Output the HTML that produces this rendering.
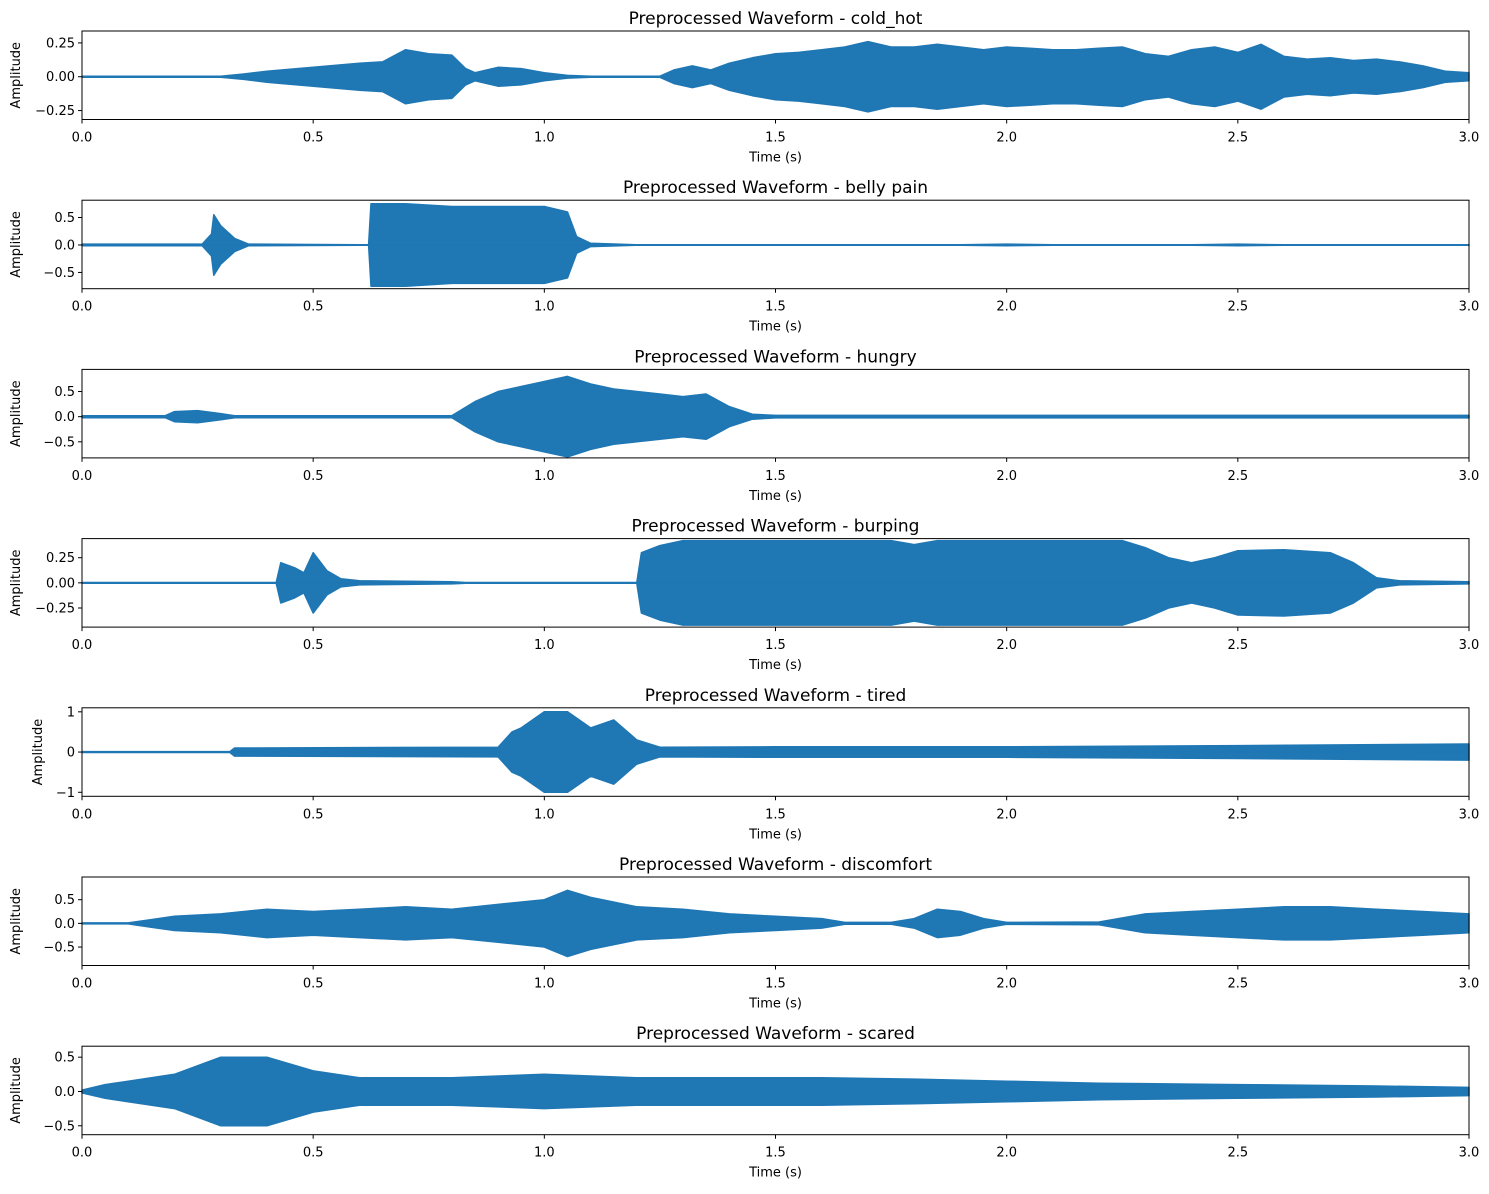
<!DOCTYPE html>
<html><head><meta charset="utf-8"><style>
body{margin:0;background:#fff;}
svg text{font-family:"DejaVu Sans","Liberation Sans",sans-serif;fill:#000;}
</style></head><body>
<svg id="fig" width="1489" height="1189" viewBox="0 0 1489 1189"></svg>
<script>
const titles=["cold_hot","belly pain","hungry","burping","tired","discomfort","scared"];
const ylims=[[-0.316,0.338],[-0.796,0.815],[-0.82,0.94],[-0.44,0.44],[-1.1,1.1],[-0.89,0.98],[-0.63,0.66]];
const yticks=[[-0.25,0,0.25],[-0.5,0,0.5],[-0.5,0,0.5],[-0.25,0,0.25],[-1,0,1],[-0.5,0,0.5],[-0.5,0,0.5]];
const ytickLabels=[["−0.25","0.00","0.25"],["−0.5","0.0","0.5"],["−0.5","0.0","0.5"],["−0.25","0.00","0.25"],["−1","0","1"],["−0.5","0.0","0.5"],["−0.5","0.0","0.5"]];
const xticks=[0,0.5,1,1.5,2,2.5,3];
const xtickLabels=["0.0","0.5","1.0","1.5","2.0","2.5","3.0"];
const t0=[0,0.3,0.35,0.4,0.45,0.5,0.55,0.6,0.65,0.7,0.75,0.8,0.83,0.85,0.9,0.95,1.0,1.05,1.1,1.25,1.28,1.32,1.36,1.4,1.45,1.5,1.55,1.6,1.65,1.7,1.75,1.8,1.85,1.9,1.95,2.0,2.05,2.1,2.15,2.2,2.25,2.3,2.35,2.4,2.45,2.5,2.55,2.6,2.65,2.7,2.75,2.8,2.85,2.9,2.95,3.0];
const a0=[0.004,0.004,0.02,0.04,0.055,0.07,0.085,0.1,0.11,0.2,0.17,0.16,0.06,0.03,0.07,0.06,0.03,0.01,0.004,0.004,0.05,0.08,0.05,0.1,0.14,0.17,0.18,0.2,0.22,0.26,0.22,0.22,0.24,0.22,0.2,0.22,0.21,0.2,0.2,0.21,0.22,0.17,0.15,0.2,0.22,0.18,0.24,0.15,0.13,0.14,0.12,0.13,0.11,0.08,0.04,0.03];
const t1=[0,0.26,0.28,0.285,0.3,0.33,0.36,0.6,0.62,0.625,0.7,0.8,0.9,1.0,1.05,1.07,1.1,1.2,1.9,2.0,2.1,2.4,2.5,2.6,3.0];
const a1=[0.015,0.015,0.2,0.55,0.35,0.12,0.015,0.005,0.005,0.75,0.75,0.7,0.7,0.7,0.6,0.15,0.03,0.004,0.004,0.015,0.004,0.004,0.015,0.004,0.004];
const t2=[0,0.18,0.2,0.25,0.3,0.33,0.8,0.85,0.9,0.95,1.0,1.05,1.1,1.15,1.2,1.25,1.3,1.35,1.4,1.45,1.5,3.0];
const a2=[0.02,0.02,0.1,0.12,0.06,0.02,0.02,0.3,0.5,0.6,0.7,0.8,0.65,0.55,0.5,0.45,0.4,0.45,0.2,0.05,0.025,0.025];
const t3=[0,0.42,0.43,0.46,0.48,0.5,0.53,0.56,0.6,0.7,0.8,0.83,1.2,1.21,1.25,1.3,1.75,1.8,1.85,2.25,2.3,2.35,2.4,2.45,2.5,2.6,2.7,2.75,2.8,2.85,3.0];
const a3=[0.003,0.003,0.2,0.15,0.1,0.3,0.12,0.04,0.02,0.015,0.01,0.003,0.003,0.3,0.37,0.42,0.42,0.38,0.42,0.42,0.35,0.25,0.2,0.25,0.32,0.33,0.3,0.2,0.05,0.02,0.01];
const t4=[0,0.32,0.33,0.9,0.93,0.95,1.0,1.05,1.1,1.15,1.2,1.25,1.5,2.0,2.5,3.0];
const a4=[0.01,0.01,0.1,0.12,0.5,0.6,1.0,1.0,0.6,0.8,0.3,0.12,0.13,0.13,0.16,0.2];
const t5=[0,0.1,0.15,0.2,0.3,0.4,0.5,0.6,0.7,0.8,0.9,1.0,1.05,1.1,1.2,1.3,1.4,1.5,1.6,1.65,1.75,1.8,1.85,1.9,1.95,2.0,2.2,2.3,2.4,2.5,2.6,2.7,2.8,2.9,3.0];
const a5=[0.01,0.01,0.08,0.15,0.2,0.3,0.25,0.3,0.35,0.3,0.4,0.5,0.7,0.55,0.35,0.3,0.2,0.15,0.1,0.02,0.02,0.1,0.3,0.25,0.1,0.02,0.03,0.2,0.25,0.3,0.35,0.35,0.3,0.25,0.2];
const t6=[0,0.05,0.1,0.2,0.3,0.4,0.5,0.6,0.8,1.0,1.2,1.4,1.6,1.8,2.0,2.2,2.5,2.8,3.0];
const a6=[0.02,0.1,0.15,0.25,0.5,0.5,0.3,0.2,0.2,0.25,0.2,0.2,0.2,0.18,0.15,0.12,0.1,0.08,0.06];
const times=[t0,t1,t2,t3,t4,t5,t6];
const amps=[a0,a1,a2,a3,a4,a5,a6];

const svg=document.getElementById('fig');
const NS="http://www.w3.org/2000/svg";
const L=82,R=1469,PH=88.5,step=169.2,top0=31;
function mk(tag,at,parent){const e=document.createElementNS(NS,tag);for(const k in at)e.setAttribute(k,at[k]);(parent||svg).appendChild(e);return e;}
for(let p=0;p<7;p++){
  const top=top0+p*step, bot=top+PH;
  const g=mk('g',{});
  
  
  const [y0,y1]=ylims[p];
  const X=t=>L+(t/3)*(R-L);
  const Y=v=>bot-(v-y0)/(y1-y0)*(bot-top);
  const tt=times[p],aa=amps[p];
  let up=[],dn=[];
  for(let i=0;i<tt.length;i++){up.push(X(tt[i]).toFixed(1)+','+Y(aa[i]).toFixed(1));dn.unshift(X(tt[i]).toFixed(1)+','+Y(-aa[i]).toFixed(1));}
  const poly=mk('polygon',{points:up.concat(dn).join(' '),fill:'#1f77b4',stroke:'#1f77b4','stroke-width':1.5,'stroke-linejoin':'round'},g);
  
  
  mk('line',{x1:L,x2:R,y1:Y(0),y2:Y(0),stroke:'#1f77b4','stroke-width':1.5},g);
  const fr=mk('rect',{x:L,y:top,width:R-L,height:bot-top,fill:'none',stroke:'#000','stroke-width':1},g);
  
  
  xticks.forEach((v,i)=>{
    mk('line',{x1:X(v),x2:X(v),y1:bot,y2:bot+4,stroke:'#000'},g);
    const t=mk('text',{x:X(v),y:bot+22,'font-size':13,'text-anchor':'middle'},g);t.textContent=xtickLabels[i];
    
    
  });
  yticks[p].forEach((v,i)=>{
    mk('line',{x1:L-4,x2:L,y1:Y(v),y2:Y(v),stroke:'#000'},g);
    const t=mk('text',{x:L-7,y:Y(v)+4.5,'font-size':13,'text-anchor':'end'},g);t.textContent=ytickLabels[p][i];
    
    
  });
  const ti=mk('text',{x:(L+R)/2,y:top-7,'font-size':17,'text-anchor':'middle'},g);ti.textContent='Preprocessed Waveform - '+titles[p];
  
  
  const xl=mk('text',{x:(L+R)/2,y:bot+42,'font-size':13,'text-anchor':'middle'},g);xl.textContent='Time (s)';
  
  
  const wide=ytickLabels[p][0].length>3?20:(ytickLabels[p][0].length>2?29:42);
  const yx=wide, yc=(top+bot)/2;
  const yl=mk('text',{x:yx,y:yc,'font-size':13,'text-anchor':'middle',transform:'rotate(-90 '+yx+' '+yc+')'},g);yl.textContent='Amplitude';
  
  
}
</script>
</body></html>
